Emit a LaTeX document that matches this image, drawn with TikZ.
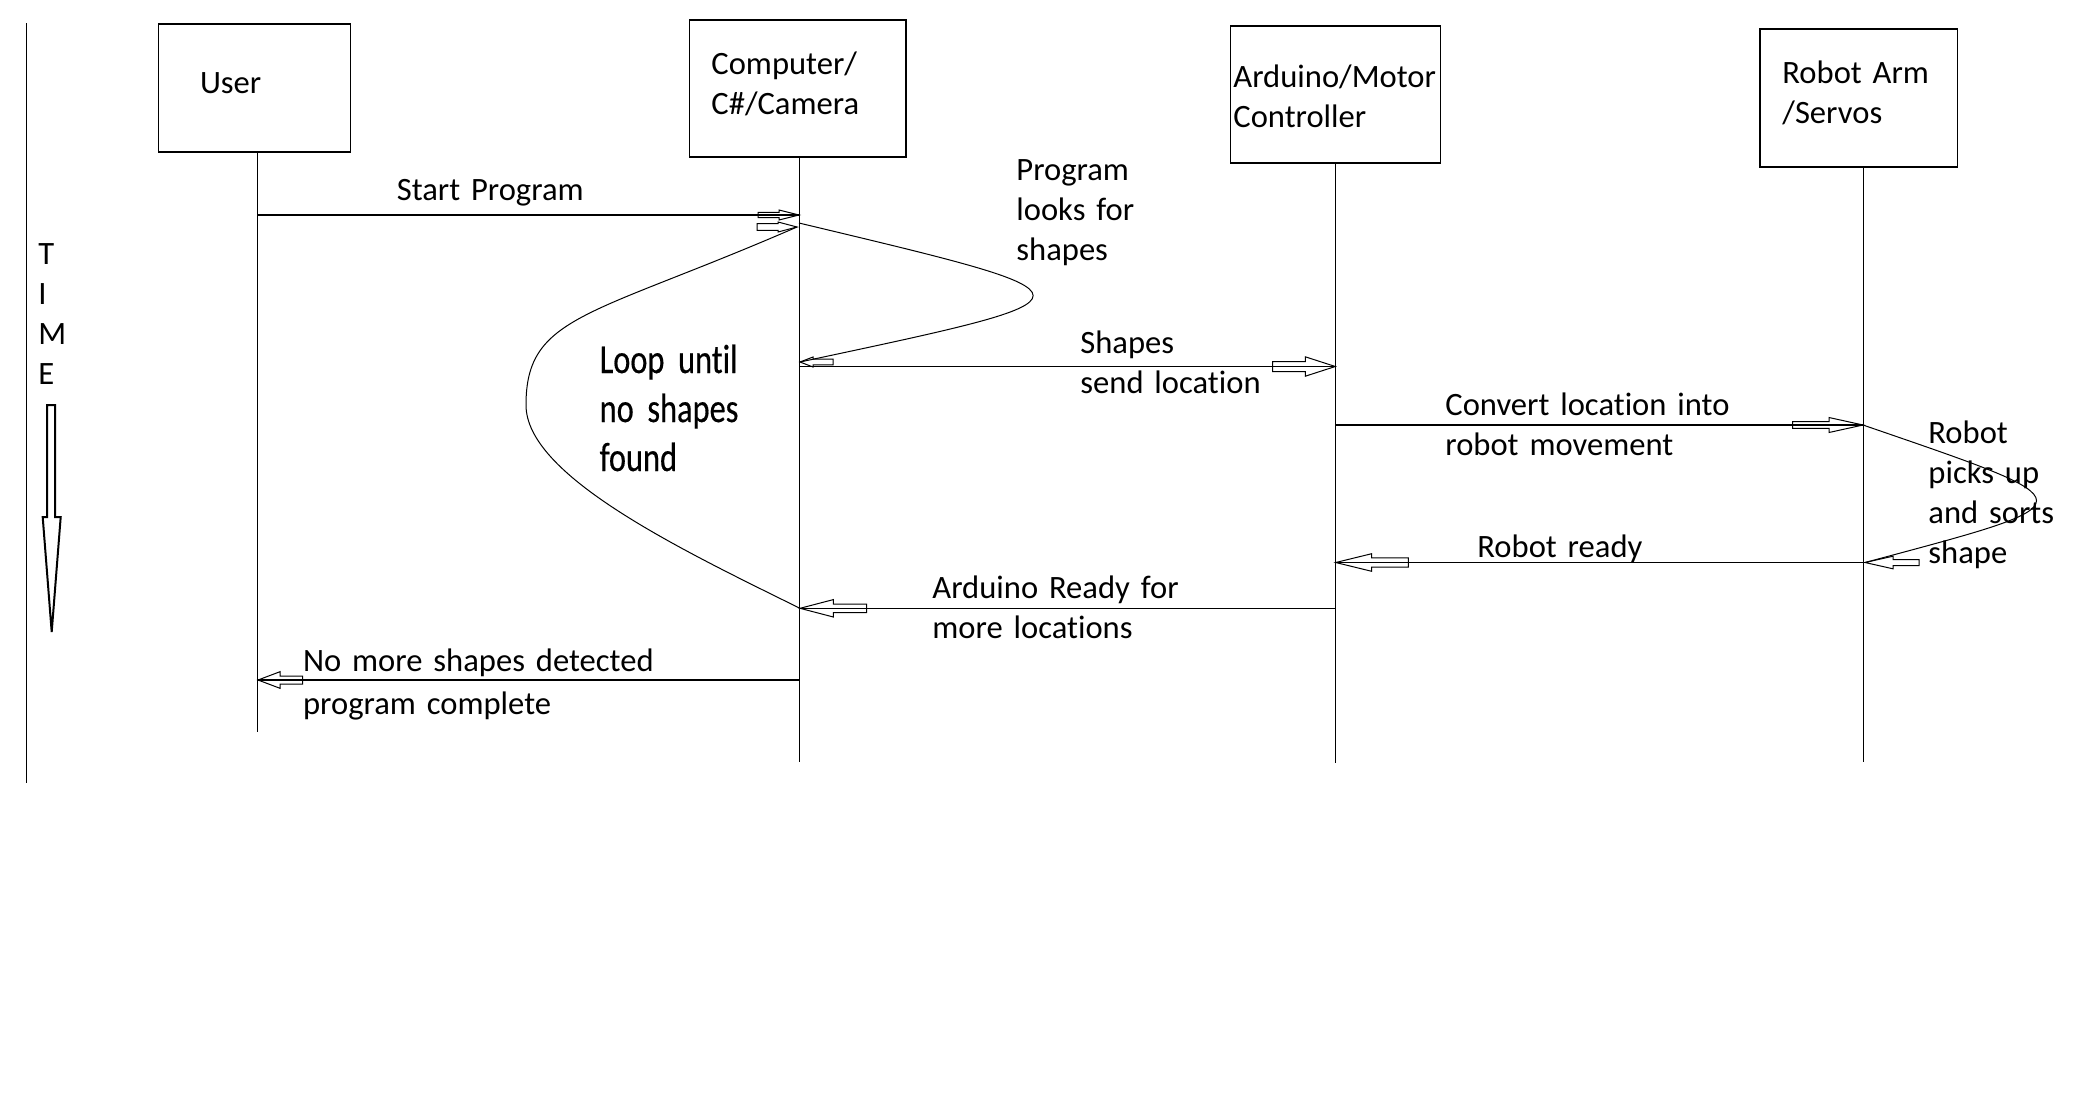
\documentclass[tikz,border=0pt]{standalone}
\usepackage{fontspec}
\setmainfont[WordSpace=0.8,Ligatures=NoCommon]{Carlito}
\newfontfamily\loopfont[FakeStretch=0.79,FakeBold=0.4,WordSpace=0.8,Ligatures=NoCommon]{Carlito}
\newcommand\holarrow[6]{%
  \draw[harrow, shift={(#1)}, rotate=#2] (0,0) -- (-#3,#4) -- (-#3,#6) -- ({-(#3)-(#5)},#6) -- ({-(#3)-(#5)},-#6) -- (-#3,-#6) -- (-#3,-#4) -- cycle;}
\begin{document}
\begin{tikzpicture}[x=0.5pt,y=-0.5pt,
  actor/.style={draw, line width=0.6pt, inner sep=0pt, rectangle},
  lifeline/.style={line width=0.4pt},
  msg/.style={line width=0.6pt},
  harrow/.style={line width=0.5pt},
  loopcurve/.style={line width=0.5pt},
  lbl/.style={anchor=base west, inner sep=0pt, align=left, text width=220pt, font=\fontsize{16.3pt}{20pt}\selectfont},
  looplbl/.style={lbl, font=\loopfont\fontsize{20.5pt}{24.5pt}\selectfont}]
\fill[white] (0,0) rectangle (2089,1093);
\useasboundingbox (0,0) rectangle (2089,1093);

% time axis
\coordinate (tlA) at (26.8,23);
\coordinate (tlB) at (26.8,783);
\draw[line width=0.5pt] (tlA) -- (tlB);
\node[lbl] (time) at (38,264) {T\\I\\M\\E};
\draw[line width=1pt] (47,405) -- (55,405) -- (55,517) -- (60.7,517) -- (51.7,632) -- (42.7,517) -- (47,517) -- cycle;

% actors
\node[actor, minimum width=95.75pt, minimum height=64pt] (user) at (254.5,88) {};
\node[actor, minimum width=108.15pt, minimum height=68.5pt] (comp) at (797.9,88.5) {};
\node[actor, minimum width=105.15pt, minimum height=68.5pt] (ard) at (1335.4,94.5) {};
\node[actor, minimum width=98.75pt, minimum height=69pt] (robot) at (1858.7,98) {};
\node[lbl] (userT) at (199.6,93) {User};
\node[lbl] (compT) at (711,74) {Computer/\\C\#/Camera};
\node[lbl] (ardT) at (1233,87) {Arduino/Motor\\Controller};
\node[lbl] (robotT) at (1782,83) {Robot Arm\\/Servos};

% lifelines
\coordinate (uB) at (257,732);
\coordinate (cB) at (799,762);
\coordinate (aB) at (1335.3,763);
\coordinate (rB) at (1863,762);
\draw[lifeline] (user.south -| uB) -- (uB);
\draw[lifeline] (comp.south -| cB) -- (cB);
\draw[lifeline] (ard.south -| aB) -- (aB);
\draw[lifeline] (robot.south -| rB) -- (rB);

% Start Program
\coordinate (m1s) at (257,215);
\coordinate (m1t) at (799,215);
\draw[msg] (m1s) -- (m1t);
\holarrow{m1t}{0}{20}{5}{21}{2.7}
\node[lbl] (m1L) at (396.4,200) {Start Program};

% loop: program looks for shapes
\coordinate (lp1s) at (799,223);
\coordinate (lp1e) at (800,362);
\draw[loopcurve] (lp1s) .. controls (1111,297.6) and (1111,295.7) .. (lp1e);
\holarrow{lp1e}{180}{13}{5}{20}{2.85}
\node[lbl] (lp1L) at (1016,180) {Program\\looks for\\shapes};

% Shapes send location
\coordinate (m2s) at (800,366.5);
\coordinate (m2t) at (1335.3,366.5);
\draw[msg] (m2s) -- (m2t);
\holarrow{m2t}{0}{30}{9.7}{32.7}{5}
\node[lbl] (m2L) at (1080,353) {Shapes\\send location};

% Convert location
\coordinate (m3s) at (1336,425);
\coordinate (m3t) at (1863,425);
\draw[msg] (m3s) -- (m3t);
\holarrow{m3t}{0}{34}{7.5}{36.3}{3.3}
\node[lbl] (m3L) at (1445,415) {Convert location into\\robot movement};

% loop: robot picks up
\coordinate (lp2s) at (1863,425);
\coordinate (lp2e) at (1865,562.5);
\draw[loopcurve] (lp2s) .. controls (2094,504.6) and (2094,501.1) .. (lp2e);
\holarrow{lp2e}{180}{28}{6.3}{26}{3}
\node[lbl] (lp2L) at (1928,443) {Robot\\picks up\\and sorts\\shape};

% Robot ready
\coordinate (m4s) at (1863,562.5);
\coordinate (m4t) at (1335.7,562.5);
\draw[msg] (m4s) -- (m4t);
\holarrow{m4t}{180}{36}{8.8}{36.6}{4.7}
\node[lbl] (m4L) at (1477,557) {Robot ready};

% Arduino ready
\coordinate (m5s) at (1335.3,608.3);
\coordinate (m5t) at (800,608.3);
\draw[msg] (m5s) -- (m5t);
\holarrow{m5t}{180}{33.3}{8.7}{33.4}{4.2}
\node[lbl] (m5L) at (932,598) {Arduino Ready for\\more locations};

% loop until no shapes found
\coordinate (lp3s) at (800,608.3);
\coordinate (lp3m) at (526,405);
\coordinate (lp3e) at (797,227);
\draw[loopcurve] (lp3s) .. controls (677.6,548) and (526,475) .. (lp3m) .. controls (526,315) and (590,317) .. (lp3e);
\holarrow{lp3e}{0}{19}{5}{21}{3.3}
\node[looplbl] (lp3L) at (599.3,373) {Loop until\\no shapes\\found};

% No more shapes
\coordinate (m6s) at (799,680);
\coordinate (m6t) at (258,680);
\draw[msg] (m6s) -- (m6t);
\holarrow{m6t}{180}{22}{8.3}{22.7}{4}
\node[lbl, font=\fontsize{16.3pt}{21.5pt}\selectfont] (m6L) at (302.7,671) {No more shapes detected\\program complete};
\end{tikzpicture}
\end{document}
